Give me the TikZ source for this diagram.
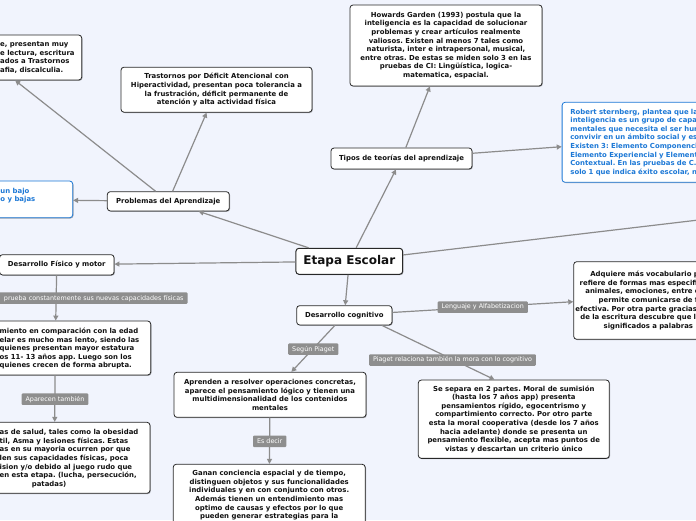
\documentclass[tikz,border=0pt]{standalone}
\usepackage{fontspec}
\setmainfont{DejaVu Sans}
\frenchspacing
\usetikzlibrary{arrows.meta,shadows,calc}
\definecolor{bg}{RGB}{241,244,253}
\definecolor{conncol}{RGB}{140,140,140}
\definecolor{lblfill}{RGB}{142,142,142}
\definecolor{bluet}{RGB}{28,120,214}
\definecolor{boxline}{RGB}{40,40,40}
\definecolor{boxtext}{RGB}{17,17,17}
\tikzset{
  box/.style={draw=boxline, line width=0.8pt, fill=white, rounded corners=3pt,
    text=boxtext, font=\fontsize{6.9}{8.6}\selectfont\bfseries\frenchspacing, align=center,
    inner xsep=4pt, inner ysep=2pt,
    drop shadow={shadow xshift=0.8pt, shadow yshift=-0.8pt, fill=black, opacity=0.3}},
  bluebox/.style={box, draw=bluet, text=bluet, align=left},
  plain/.style={font=\fontsize{6.9}{8.6}\selectfont\bfseries\frenchspacing, align=left, inner sep=0pt, text=boxtext},
  lbl/.style={fill=lblfill, text=white, font=\fontsize{6.4}{7.5}\selectfont,
    inner xsep=4pt, inner ysep=0pt, minimum height=11.5pt, rounded corners=1pt},
  conn/.style={draw=conncol, line width=1.2pt, -{Triangle[length=5pt,width=5pt]}}
}
\begin{document}
\begin{tikzpicture}[x=1pt,y=-1pt]
\useasboundingbox (0,0) rectangle (696,520);
\fill[bg] (0,0) rectangle (696,520);
\clip (0,0) rectangle (696,520);

% central
\node[box, minimum width=106.7pt, minimum height=26pt, line width=1pt,
  font=\fontsize{12}{14}\selectfont\bfseries] (etapa) at (349.3,261.3) {Etapa Escolar};

% top branch
\node[box, minimum width=141pt, minimum height=21pt] (tipos) at (401.5,158.5) {Tipos de teorías del aprendizaje};
\node[box, minimum width=192pt, minimum height=81pt] (howards) at (446,45.5)
 {Howards Garden (1993) postula que la\\
  inteligencia es la capacidad de solucionar\\
  problemas y crear artículos realmente\\
  valiosos. Existen al menos 7 tales como\\
  naturista, inter e intrapersonal, musical,\\
  entre otras. De estas se miden solo 3 en las\\
  pruebas de CI: Lingüística, logica-\\
  matematica, espacial.};
\node[bluebox, text width=250pt, inner xsep=8.3pt, minimum height=80pt, anchor=west] (robert) at (561.7,142.3)
 {Robert sternberg, plantea que la\\
  inteligencia es un grupo de capacidades\\
  mentales que necesita el ser humano\\
  convivir en un ámbito social y escolar.\\
  Existen 3: Elemento Componencial,\\
  Elemento Experiencial y Elemento\\
  Contextual. En las pruebas de C.I.\\
  solo 1 que indica éxito escolar, no};

% problemas branch
\node[box, minimum width=122pt, minimum height=19.3pt] (problemas) at (168.3,201.3) {Problemas del Aprendizaje};
\node[box, minimum width=191pt, minimum height=45pt] (trast) at (216.5,89.7)
 {Trastornos por Déficit Atencional con\\
  Hiperactividad, presentan poca tolerancia a\\
  la frustración, déficit permanente de\\
  atención y alta actividad física};
\node[box, minimum width=191pt, minimum height=45pt] (topleft) at (-13.8,57.5) {};
\node[plain, anchor=west] (toplefttext) at (0,57.6)
 {e, presentan muy\\e lectura, escritura\\ados a Trastornos\\afia, discalculia.};
\node[box, draw=bluet, minimum width=191pt, minimum height=36.7pt] (leftblue) at (-22.8,199.35) {};
\node[plain, text=bluet, anchor=west] (leftbluetext) at (0.3,195.6) {un bajo\\o y bajas};

% fisico branch
\node[box, minimum width=114.5pt, minimum height=20.3pt] (fisico) at (56.8,264.8) {Desarrollo Físico y motor};
\node[box, minimum width=191pt, minimum height=54pt] (crec) at (55.2,348) {};
\node[plain, anchor=west] (crectext) at (-0.5,348.6)
 {miento en comparación con la edad\\
  elar es mucho mas lento, siendo las\\
  quienes presentan mayor estatura\\
  os 11- 13 años app. Luego son los\\
  quienes crecen de forma abrupta.};
\node[box, minimum width=191pt, minimum height=71pt] (salud) at (54.5,457.8) {};
\node[plain, anchor=west] (saludtext) at (-0.5,458.6)
 {as de salud, tales como la obesidad\\
  til, Asma y lesiones físicas. Estas\\
  as en su mayoria ocurren por que\\
  len sus capacidades físicas, poca\\
  ision y/o debido al juego rudo que\\
  en esta etapa. (lucha, persecución,\\
  \hspace*{32.2pt}patadas)};

% cognitivo branch
\node[box, minimum width=95.3pt, minimum height=19.3pt] (cog) at (344.3,315.3) {Desarrollo cognitivo};
\node[box, minimum width=192pt, minimum height=45pt] (aprenden) at (270,394.8)
 {Aprenden a resolver operaciones concretas,\\
  aparece el pensamiento lógico y tienen una\\
  multidimensionalidad de los contenidos\\
  mentales};
\node[box, minimum width=192pt, minimum height=62.2pt] (ganan) at (269.2,495.4)
 {Ganan conciencia espacial y de tiempo,\\
  distinguen objetos y sus funcionalidades\\
  individuales y en con conjunto con otros.\\
  Además tienen un entendimiento mas\\
  optimo de causas y efectos por lo que\\
  pueden generar estrategias para la};
\node[box, minimum width=191pt, minimum height=78.3pt] (separa) at (513.8,419.2)
 {Se separa en 2 partes. Moral de sumisión\\
  (hasta los 7 años app) presenta\\
  pensamientos rígido, egocentrismo y\\
  compartimiento correcto. Por otro parte\\
  esta la moral cooperativa (desde los 7 años\\
  hacia adelante) donde se presenta un\\
  pensamiento flexible, acepta mas puntos de\\
  vistas y descartan un criterio único};
\node[box, text width=250pt, align=left, inner xsep=1.7pt, minimum height=77.6pt, anchor=west] (adquiere) at (573.3,300.5)
 {\hspace*{15pt}Adquiere más vocabulario para\\
  \hspace*{4.3pt}refiere de formas mas especificas\\
  \hspace*{10pt}animales, emociones, entre otros\\
  \hspace*{23.3pt}permite comunicarse de forma\\
  efectiva. Por otra parte gracias\\
  \hspace*{5pt}de la escritura descubre que los\\
  \hspace*{28.3pt}significados a palabras};

\coordinate (offright) at (800,208);
\coordinate (robertin) at ($(robert.west)+(0,4.4)$);
\coordinate (adquierein) at ($(adquiere.west)+(0,1.2)$);

% connectors
\draw[conn] (etapa) -- (tipos);
\draw[conn] (tipos) -- (howards);
\draw[conn] (tipos) -- (robertin);
\draw[conn] (etapa) -- (problemas);
\draw[conn] (problemas) -- (trast);
\draw[conn] (problemas) -- (topleft);
\draw[conn] (problemas) -- (leftblue);
\draw[conn] (etapa) -- (fisico);
\draw[conn] (fisico) -- (crec);
\draw[conn] (crec) -- (salud);
\draw[conn] (etapa) -- (cog);
\draw[conn] (cog) -- (aprenden);
\draw[conn] (aprenden) -- (ganan);
\draw[conn] (cog) -- (adquierein);
\draw[conn] (cog.-15) -- (separa.116);
\draw[conn] (etapa) -- (offright);

% labels
\node[lbl, text width=250pt, align=right, anchor=east] (l1) at (187.7,298.2) {prueba constantemente sus nuevas capacidades físicas};
\node[lbl] (l2) at (55,399.2) {Aparecen también};
\node[lbl] (l3) at (313.3,349.2) {Según Piaget};
\node[lbl] (l4) at (269.7,441.3) {Es decir};
\node[lbl] (l5) at (482.8,307.2) {Lenguaje y Alfabetizacion};
\node[lbl] (l6) at (452.5,360) {Piaget relaciona también la mora con lo cognitivo};
\end{tikzpicture}
\end{document}
